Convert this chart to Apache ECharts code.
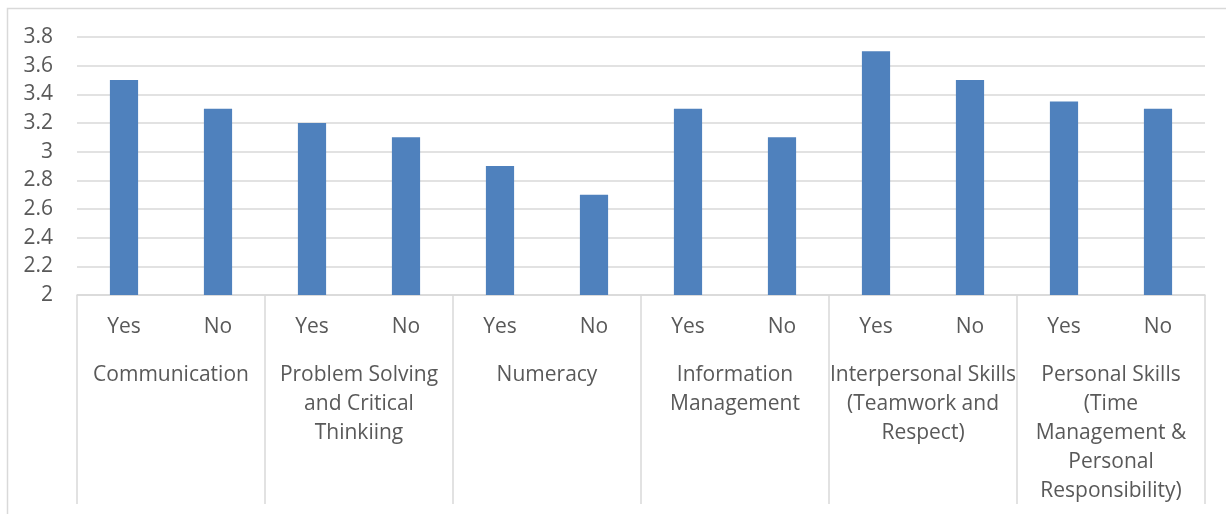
<!DOCTYPE html>
<html>
<head>
<meta charset="utf-8">
<script src="https://cdn.jsdelivr.net/npm/echarts@6/dist/echarts.min.js"></script>
<style>
html,body{margin:0;padding:0;background:#fff;}
#chart{width:1226px;height:514px;}
</style>
</head>
<body>
<div id="chart"></div>
<script>
const groups = [
  "Communication",
  "Problem Solving\nand Critical\nThinkiing",
  "Numeracy",
  "Information\nManagement",
  "Interpersonal Skills\n(Teamwork and\nRespect)",
  "Personal Skills\n(Time\nManagement &\nPersonal\nResponsibility)"
];
const subCategories = ["Yes", "No"];
const values = [3.5, 3.3, 3.2, 3.1, 2.9, 2.7, 3.3, 3.1, 3.7, 3.5, 3.35, 3.3];

const xLabels = [];
groups.forEach(() => subCategories.forEach(s => xLabels.push(s)));

const FONT = "Open Sans";
const TXT = "#595959";
const GRID = "#d9d9d9";

const chart = echarts.init(document.getElementById('chart'), null, {renderer: 'canvas'});
chart.setOption({
  animation: false,
  backgroundColor: '#fff',
  graphic: [{
    type: 'rect',
    shape: {x: 7.5, y: 8.5, width: 1240, height: 520},
    style: {fill: 'none', stroke: GRID, lineWidth: 1.5},
    silent: true,
    z: -1
  }],
  grid: {left: 77, right: 21, top: 37, bottom: 219, containLabel: false},
  xAxis: [{
    type: 'category',
    data: xLabels,
    position: 'bottom',
    axisLine: {show: true, lineStyle: {color: GRID, width: 1.5}},
    axisTick: {show: false},
    axisLabel: {color: TXT, fontFamily: FONT, fontSize: 21, margin: 22, interval: 0}
  }, {
    type: 'category',
    data: groups,
    position: 'bottom',
    axisLine: {show: false},
    axisTick: {show: true, interval: 0, length: 209, lineStyle: {color: GRID, width: 1.5}},
    axisLabel: {color: TXT, fontFamily: FONT, fontSize: 21, lineHeight: 29, margin: 66, interval: 0, hideOverlap: false, verticalAlign: 'top'}
  }],
  yAxis: {
    type: 'value',
    min: 2,
    max: 3.8,
    interval: 0.2,
    axisLine: {show: false},
    axisTick: {show: false},
    splitLine: {lineStyle: {color: GRID, width: 1.5}},
    axisLabel: {color: TXT, fontFamily: FONT, fontSize: 21, margin: 24,
      formatter: v => String(Math.round(v * 10) / 10)}
  },
  series: [{
    type: 'bar',
    data: values,
    xAxisIndex: 0,
    barWidth: '30%',
    itemStyle: {color: '#4f81bd'}
  }]
});
</script>
</body>
</html>
